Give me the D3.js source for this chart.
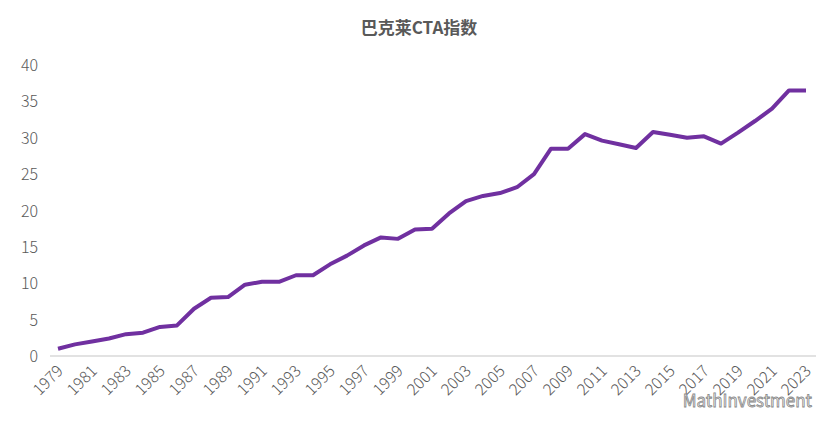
<!DOCTYPE html><html><head><meta charset="utf-8"><script src="https://cdn.jsdelivr.net/npm/d3@7"></script>
<style>body{margin:0;background:#fff}</style></head><body><svg id="c" width="838" height="434"></svg>
<script>
const years = d3.range(1979, 2024).map(String);
const values = [1.0,1.6,2.0,2.4,3.0,3.2,4.0,4.2,6.5,8.0,8.1,9.8,10.2,10.2,11.1,11.1,12.6,13.8,15.2,16.3,16.1,17.4,17.5,19.6,21.3,22.0,22.4,23.2,25.0,28.5,28.5,30.5,29.6,29.1,28.6,30.8,30.4,30.0,30.2,29.2,30.7,32.3,34.0,36.5,36.5];
const yTicks = [0,5,10,15,20,25,30,35,40];
const svg = d3.select("#c");
const font = "'Microsoft YaHei','Noto Sans CJK SC',sans-serif";
const x = d3.scalePoint().domain(years).range([58, 806]);
const y = d3.scaleLinear().domain([0,40]).range([356, 65]);
svg.append("text").attr("x",419).attr("y",34).attr("text-anchor","middle").attr("font-family",font)
  .attr("font-size",17).attr("font-weight","bold").attr("fill","#595959").text("巴克莱CTA指数");
svg.append("line").attr("x1",50).attr("x2",816).attr("y1",y(0)).attr("y2",y(0)).attr("stroke","#d9d9d9").attr("stroke-width",1.5);
svg.selectAll(".yt").data(yTicks).enter().append("text").attr("x",38).attr("y",d=>y(d)+6)
  .attr("text-anchor","end").attr("font-family",font).attr("font-size",16).attr("font-weight",300).attr("fill","#595959").text(d=>d);
svg.selectAll(".xt").data(years.filter((d,i)=>i%2===0)).enter().append("text")
  .attr("transform",d=>`translate(${x(d)+6},${y(0)+16}) rotate(-45)`).attr("text-anchor","end")
  .attr("font-family",font).attr("font-size",16).attr("font-weight",300).attr("fill","#595959").text(d=>d);
svg.append("path").datum(values).attr("fill","none").attr("stroke","#7030a0").attr("stroke-width",4)
  .attr("stroke-linejoin","round").attr("d",d3.line().x((d,i)=>x(years[i])).y(d=>y(d)));
svg.append("text").attr("x",812).attr("y",407).attr("text-anchor","end").attr("font-family",font)
  .attr("font-size",17).attr("fill","#ffffff").attr("stroke","#888").attr("stroke-width",0.8).text("MathInvestment");
</script></body></html>
